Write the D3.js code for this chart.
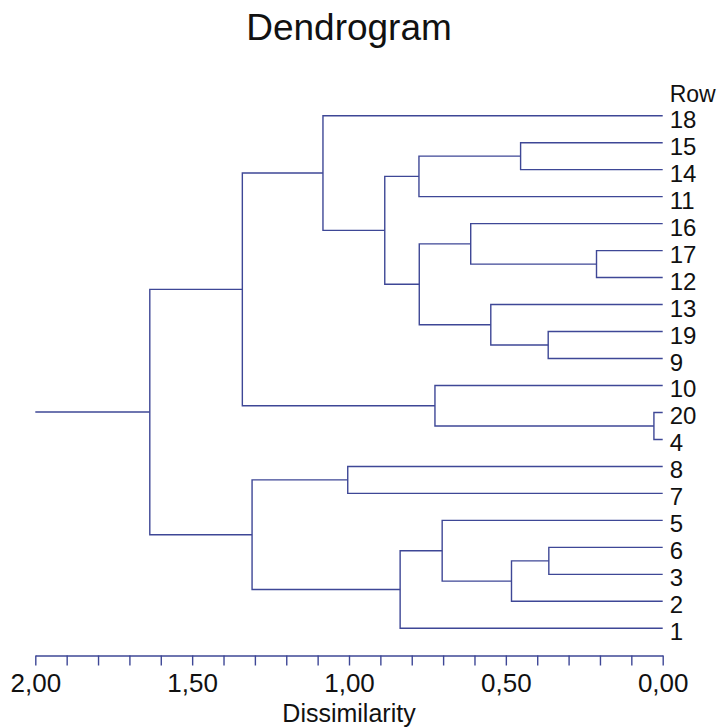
<!DOCTYPE html>
<html>
<head>
<meta charset="utf-8">
<script src="https://cdn.jsdelivr.net/npm/d3@7"></script>
<style>
  body { margin: 0; background: #fff; }
  svg text { font-family: "Liberation Sans", Arial, sans-serif; fill: #111; }
</style>
</head>
<body>
<div class="dendro"></div>
<script>
// leaf order, top to bottom
var leaves = ["18", "15", "14", "11", "16", "17", "12", "13", "19", "9",
              "10", "20", "4", "8", "7", "5", "6", "3", "2", "1"];

// merges: [child a, child b, dissimilarity]; "m3" = result of merge 3
var merge_a = ["20", "17", "6", "19", "15", "m2", "13", "16", "5", "10",
               "m4", "m7", "m8", "m10", "8", "18", "m14", "m15", "m17"];
var merge_b = ["4", "12", "3", "9", "14", "2", "m3", "m1", "m5", "m0",
               "11", "m6", "1", "m11", "7", "m13", "m12", "m9", "m16"];
var merge_h = [0.028, 0.211, 0.363, 0.365, 0.453, 0.482, 0.548, 0.612, 0.703, 0.726,
               0.777, 0.776, 0.837, 0.886, 1.004, 1.083, 1.309, 1.340, 1.635];

var axis_ticks = d3.range(0, 21).map(function(i) { return i / 10; });
var axis_labels = [0, 0.5, 1, 1.5, 2];

var width = 720, height = 728;

var svg = d3.select(".dendro")
  .append("svg")
  .attr("width", width)
  .attr("height", height);

var x = d3.scaleLinear().domain([2, 0]).range([35.3, 662.7]);
var y = d3.scalePoint().domain(leaves).range([115.7, 628.3]);

var line_color = "#3e4796";

// position of every node (leaf or merge)
var nodes = {};
leaves.forEach(function(d) { nodes[d] = { h: 0, y: y(d) }; });
merge_h.forEach(function(h, i) {
  var a = nodes[merge_a[i]], b = nodes[merge_b[i]];
  nodes["m" + i] = { h: h, y: (a.y + b.y) / 2, a: a, b: b };
});

var elbow = function(d) {
  return "M" + x(d.a.h) + "," + d.a.y +
         "H" + x(d.h) + "V" + d.b.y + "H" + x(d.b.h);
};

var g = svg.append("g");

g.selectAll(".link")
  .data(merge_h.map(function(h, i) { return nodes["m" + i]; }))
  .enter()
  .append("path")
  .attr("class", "link")
  .attr("d", elbow)
  .attr("fill", "none")
  .attr("stroke", line_color)
  .attr("stroke-width", 1.4);

// root stub out to the axis start
var root = nodes["m" + (merge_h.length - 1)];
g.append("path")
  .attr("d", "M" + x(root.h) + "," + root.y + "H" + x(2))
  .attr("stroke", line_color)
  .attr("stroke-width", 1.4);

// leaf labels
g.selectAll(".leaf")
  .data(leaves)
  .enter()
  .append("text")
  .attr("class", "leaf")
  .attr("x", x(0) + 7)
  .attr("y", function(d) { return y(d) + 12; })
  .attr("font-size", "24px")
  .text(function(d) { return d; });

g.append("text")
  .attr("x", x(0) + 7)
  .attr("y", 102)
  .attr("font-size", "23px")
  .text("Row");

// axis
var fmt = function(d) {
  var major = axis_labels.some(function(v) { return Math.abs(v - d) < 1e-9; });
  return major ? d3.format(".2f")(d).replace(".", ",") : "";
};

var ax = svg.append("g")
  .attr("transform", "translate(0,655.5)")
  .call(d3.axisBottom(x).tickValues(axis_ticks).tickSize(10).tickSizeOuter(0).tickFormat(fmt));

ax.select(".domain").attr("stroke", line_color).attr("stroke-width", 1.4);
ax.selectAll(".tick line").attr("stroke", line_color).attr("stroke-width", 1.4);
ax.selectAll(".tick text")
  .attr("y", 18)
  .attr("font-size", "26px")
  .attr("font-family", "Liberation Sans, Arial, sans-serif")
  .attr("fill", "#111");

svg.append("text")
  .attr("x", (x(2) + x(0)) / 2)
  .attr("y", 722)
  .attr("text-anchor", "middle")
  .attr("font-size", "25px")
  .text("Dissimilarity");

svg.append("text")
  .attr("x", (x(2) + x(0)) / 2)
  .attr("y", 40)
  .attr("text-anchor", "middle")
  .attr("font-size", "37px")
  .text("Dendrogram");
</script>
</body>
</html>
